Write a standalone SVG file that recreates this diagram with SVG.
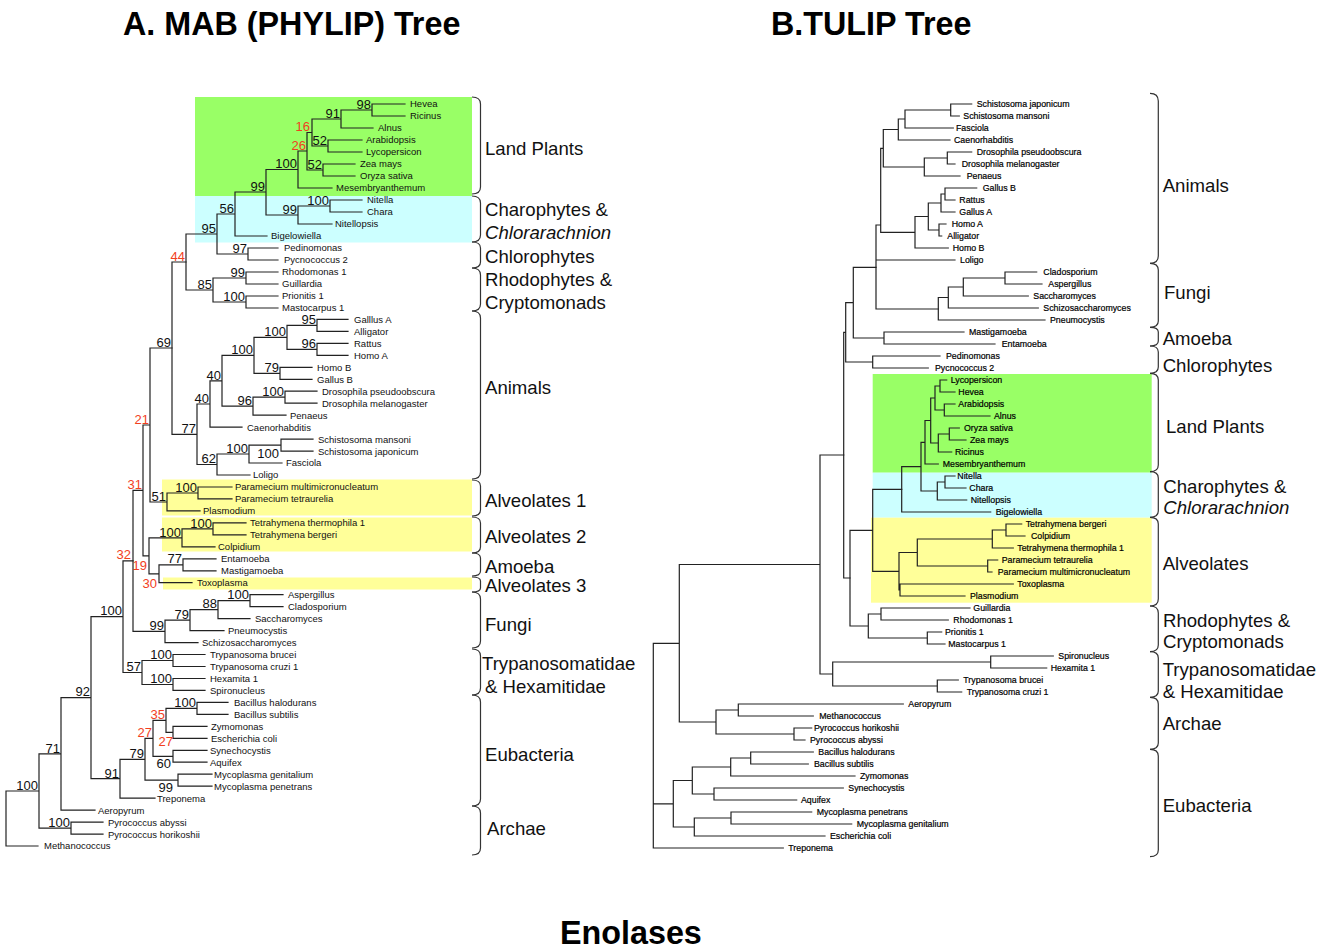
<svg xmlns="http://www.w3.org/2000/svg" width="1331" height="949" viewBox="0 0 1331 949">
<style>
.bg{fill:#fff}
.br{fill:none;stroke:#222;stroke-width:1.2;stroke-linecap:square}
.brace{fill:none;stroke:#333;stroke-width:1.2}
.ll{font-family:"Liberation Sans",Arial,sans-serif;font-size:9.5px;fill:#111}
.rl{font-family:"Liberation Sans",Arial,sans-serif;font-size:8.8px;fill:#000;stroke:#000;stroke-width:0.2}
.bs{font-family:"Liberation Sans",Arial,sans-serif;font-size:13px;fill:#111;text-anchor:end}
.red{fill:#f2401e}
.grp{font-family:"Liberation Sans",Arial,sans-serif;font-size:18.6px;fill:#111}
.it{font-style:italic}
.ttl{font-family:"Liberation Sans",Arial,sans-serif;font-size:32.3px;font-weight:bold;fill:#000}
.gr{fill:#99ff66}.cy{fill:#ccffff}.ye{fill:#ffff99}
</style>
<rect class="bg" x="0" y="0" width="1331" height="949"/>
<g id="titles">
<text class="ttl" x="123" y="35">A. MAB (PHYLIP) Tree</text>
<text class="ttl" x="771" y="35">B.TULIP Tree</text>
<text class="ttl" x="560" y="944">Enolases</text>
</g>
<g id="bands-a">
<rect class="gr" x="195" y="97" width="277" height="99"/>
<rect class="cy" x="195" y="196" width="277" height="46.5"/>
<rect class="ye" x="162" y="479.5" width="310" height="36"/>
<rect class="ye" x="162" y="517.5" width="310" height="34"/>
<rect class="ye" x="163" y="577.5" width="309" height="12"/>
</g>
<g id="bands-b">
<rect class="gr" x="872.7" y="374" width="279" height="98.7"/>
<rect class="cy" x="872.7" y="472.7" width="279" height="45"/>
<rect class="ye" x="871" y="517.7" width="280.7" height="85"/>
</g>
<g id="connectors-a">
<path class="br" d="M405 104H372V116H405 M372 110H341V128H373 M362 140H328V152H362 M341 119H312V146H328 M355 164H323V176H355 M312 132.5H307V170H323 M307 151H298V188H332 M362 200H330V212H362 M330 206H298V224H332 M298 169.5H266V215H298 M266 192H235V236H267 M278 248H248V260H278 M235 214H217V254H248 M278 272H246V284H278 M278 296H246V308H278 M246 278H213V302H246 M217 234H186V290H213"/>
<path class="br" d="M348 319.4H317V331.4H348 M348 343.4H317V355.3H348 M317 325.4H287V349.4H317 M312 367.3H280V379.3H312 M287 337.4H254V373.3H280 M317 391.2H285V403.2H317 M285 397.2H253V415.2H286 M254 355.3H222V406.2H253 M222 380.8H210V427.1H242 M313 439.1H281V451.1H313 M281 445.1H249V463H282 M249 454H217V475H250 M210 404H197V464.5H217 M186 262H172V434.3H197"/>
<path class="br" d="M232 487H198V498.9H232 M198 493H167V510.9H200 M172 348H150V502H167 M246 522.9H213V534.9H246 M213 528.9H182V546.8H215 M216 558.8H183V570.8H216 M183 564.8H159V582.7H192 M182 537.9H149V573.8H159 M150 425H143V555.8H149 M283 594.7H250V606.7H283 M250 600.7H218V618.6H250 M218 609.7H190V630.6H224 M190 620.2H165V642.6H198 M143 490.4H133V631.4H165"/>
<path class="br" d="M205 654.5H173V666.5H205 M205 678.5H173V690.4H205 M173 660.5H142V684.5H173 M133 560.9H123V672.5H142 M228 702.4H197V714.4H228 M207 726.3H173V738.3H207 M197 708.4H166V732.3H173 M207 750.3H173V762.2H207 M166 720.4H153V756.3H173 M212 774.2H178V786.2H212 M153 738.3H145V780.2H178 M145 759.3H120V798.2H155 M123 616.7H91V778.7H120 M91 697.7H61V810.1H95 M103 822.1H71V834.1H103 M61 753.9H39V828.1H71 M39 791H6V846H38"/>
</g>
<g id="connectors-b">
<path class="br" d="M971.7 104H950.7V116H959.3 M950.7 110H905V128H953.3 M905 119H898.3V140H950 M971.7 152H947.3V164H955 M947.3 158H924.3V176H960 M898.3 129.5H883.3V167H924.3 M976.7 188H945V200H955 M945 194H941V212H955 M946 224H939V236H941.7 M941 203H928.3V230H939 M928.3 216.5H915V248H948.3 M883.3 148.3H880.7V232.3H915 M880.7 225H876V309H938.3 M876 260H955"/>
<path class="br" d="M1036.7 272H1005V284H1042 M1005 278H963.3V296H1028.3 M963.3 287H948.3V308H1038.3 M948.3 297.5H938.3V320H1045 M964 332H884V344H995 M876 267.3H853.3V338H884 M940 356H872.7V368H928.3 M853.3 302.7H845.7V362H872.7 M845.7 332.3H843.7V578H850"/>
<path class="br" d="M946.7 380H940V392H955 M955 404H944.3V416H990 M940 386H935V410H944.3 M959.3 428H949.3V440H966 M949.3 434H938.3V452H951.7 M935 398H930.7V443H938.3 M930.7 420.5H925V464H938.3 M955 476H945V488H966 M945 482H937.3V500H966.7 M925 442.3H921V491H937.3 M921 466.7H901.7V512H990.7"/>
<path class="br" d="M1021.7 524H1006V536H1025 M1006 530H992.3V548H1013.3 M997.7 560H987.7V572H992 M992.3 539H917.3V566H987.7 M1013.3 584H900V596H965 M917.3 552.5H899V590H900 M901.7 489.3H872.7V571.3H899 M970 608H881V620H948.3 M941.7 632H927.3V644H945 M881 614H868.3V638H927.3 M872.7 530.3H850V626H868.3"/>
<path class="br" d="M1053.3 656H990.7V668H1046.7 M958.3 680H937.3V692H961.7 M990.7 662H832.7V686H937.3 M843.7 455H820V674H832.7 M903.3 704H738.3V716H813.3 M811.7 728H794V740H805 M738.3 710H716V734H794 M820 564.5H679.3V722H716 M813.3 752H750.7V764H808.3 M750.7 758H730.7V776H855 M843.3 788H714V800H796.7 M730.7 767H692.3V794H714 M811.7 812H731V824H851.7 M731 818H694.3V836H825 M692.3 780.5H673.3V827H694.3 M679.3 643.3H653.3V848H783.3 M653.3 803.8H673.3"/>
</g>
<g id="leaves-a" class="ll">
<text x="410" y="107.4">Hevea</text>
<text x="410" y="119.4">Ricinus</text>
<text x="378" y="131.3">Alnus</text>
<text x="366" y="143.3">Arabidopsis</text>
<text x="366" y="155.3">Lycopersicon</text>
<text x="360" y="167.2">Zea mays</text>
<text x="360" y="179.2">Oryza sativa</text>
<text x="336" y="191.2">Mesembryanthemum</text>
<text x="367" y="203.1">Nitella</text>
<text x="367" y="215.1">Chara</text>
<text x="335" y="227.1">Nitellopsis</text>
<text x="271" y="239">Bigelowiella</text>
<text x="284" y="251">Pedinomonas</text>
<text x="284" y="263">Pycnococcus 2</text>
<text x="282" y="275">Rhodomonas 1</text>
<text x="282" y="286.9">Guillardia</text>
<text x="282" y="298.9">Prionitis 1</text>
<text x="282" y="310.9">Mastocarpus 1</text>
<text x="354" y="322.8">Galllus A</text>
<text x="354" y="334.8">Alligator</text>
<text x="354" y="346.8">Rattus</text>
<text x="354" y="358.7">Homo A</text>
<text x="317" y="370.7">Homo B</text>
<text x="317" y="382.7">Gallus B</text>
<text x="322" y="394.6">Drosophila pseudoobscura</text>
<text x="322" y="406.6">Drosophila melanogaster</text>
<text x="290" y="418.6">Penaeus</text>
<text x="247" y="430.5">Caenorhabditis</text>
<text x="318" y="442.5">Schistosoma mansoni</text>
<text x="318" y="454.5">Schistosoma japonicum</text>
<text x="286" y="466.4">Fasciola</text>
<text x="253" y="478.4">Loligo</text>
<text x="235" y="490.4">Paramecium multimicronucleatum</text>
<text x="235" y="502.3">Paramecium tetraurelia</text>
<text x="203" y="514.3">Plasmodium</text>
<text x="250" y="526.3">Tetrahymena thermophila 1</text>
<text x="250" y="538.3">Tetrahymena bergeri</text>
<text x="218" y="550.2">Colpidium</text>
<text x="221" y="562.2">Entamoeba</text>
<text x="221" y="574.2">Mastigamoeba</text>
<text x="197" y="586.1">Toxoplasma</text>
<text x="288" y="598.1">Aspergillus</text>
<text x="288" y="610.1">Cladosporium</text>
<text x="255" y="622">Saccharomyces</text>
<text x="228" y="634">Pneumocystis</text>
<text x="202" y="646">Schizosaccharomyces</text>
<text x="210" y="657.9">Trypanosoma brucei</text>
<text x="210" y="669.9">Trypanosoma cruzi 1</text>
<text x="210" y="681.9">Hexamita 1</text>
<text x="210" y="693.8">Spironucleus</text>
<text x="234" y="705.8">Bacillus halodurans</text>
<text x="234" y="717.8">Bacillus subtilis</text>
<text x="211" y="729.7">Zymomonas</text>
<text x="211" y="741.7">Escherichia coli</text>
<text x="210" y="753.7">Synechocystis</text>
<text x="210" y="765.6">Aquifex</text>
<text x="214" y="777.6">Mycoplasma genitalium</text>
<text x="214" y="789.6">Mycoplasma penetrans</text>
<text x="157" y="801.6">Treponema</text>
<text x="98" y="813.5">Aeropyrum</text>
<text x="108" y="825.5">Pyrococcus abyssi</text>
<text x="108" y="837.5">Pyrococcus horikoshii</text>
<text x="44" y="849.4">Methanococcus</text>
</g>
<g id="support-a" class="bs">
<text x="371" y="108.5">98</text>
<text x="340" y="117.5">91</text>
<text class="red" x="310" y="131">16</text>
<text x="327" y="144.5">52</text>
<text class="red" x="306" y="149.5">26</text>
<text x="322" y="168.5">52</text>
<text x="297" y="168">100</text>
<text x="329" y="204.5">100</text>
<text x="297" y="213.5">99</text>
<text x="265" y="190.5">99</text>
<text x="234" y="212.5">56</text>
<text x="216" y="232.5">95</text>
<text x="247" y="252.5">97</text>
<text class="red" x="185" y="260.5">44</text>
<text x="245" y="276.5">99</text>
<text x="245" y="300.5">100</text>
<text x="212" y="288.5">85</text>
<text x="171" y="346.5">69</text>
<text x="316" y="324">95</text>
<text x="316" y="348">96</text>
<text x="286" y="336">100</text>
<text x="279" y="372">79</text>
<text x="253" y="354">100</text>
<text x="284" y="396">100</text>
<text x="252" y="405">96</text>
<text x="221" y="379.5">40</text>
<text x="209" y="402.5">40</text>
<text x="196" y="433">77</text>
<text x="248" y="452.5">100</text>
<text x="279" y="457.5">100</text>
<text x="216" y="463">62</text>
<text class="red" x="149" y="423.5">21</text>
<text x="166" y="500.5">51</text>
<text x="197" y="491.5">100</text>
<text class="red" x="142" y="489">31</text>
<text x="212" y="527.5">100</text>
<text x="181" y="536.5">100</text>
<text x="182" y="563.3">77</text>
<text class="red" x="147" y="570">19</text>
<text class="red" x="157" y="588">30</text>
<text class="red" x="131" y="559">32</text>
<text x="249" y="599.2">100</text>
<text x="217" y="608.2">88</text>
<text x="189" y="618.7">79</text>
<text x="164" y="630">99</text>
<text x="122" y="615.2">100</text>
<text x="172" y="659">100</text>
<text x="172" y="683">100</text>
<text x="141" y="671">57</text>
<text x="90" y="696.2">92</text>
<text x="196" y="707">100</text>
<text class="red" x="165" y="719">35</text>
<text class="red" x="152" y="737">27</text>
<text class="red" x="173" y="746">27</text>
<text x="171" y="768">60</text>
<text x="173" y="792">99</text>
<text x="144" y="758">79</text>
<text x="119" y="777.5">91</text>
<text x="60" y="752.5">71</text>
<text x="70" y="826.5">100</text>
<text x="38" y="789.5">100</text>
</g>
<g id="leaves-b" class="rl">
<text x="976.7" y="107.2">Schistosoma japonicum</text>
<text x="963.3" y="119.2">Schistosoma mansoni</text>
<text x="956" y="131.2">Fasciola</text>
<text x="954" y="143.2">Caenorhabditis</text>
<text x="976.7" y="155.2">Drosophila pseudoobscura</text>
<text x="961.7" y="167.2">Drosophila melanogaster</text>
<text x="966.7" y="179.2">Penaeus</text>
<text x="982.7" y="191.2">Gallus B</text>
<text x="959.3" y="203.2">Rattus</text>
<text x="959.3" y="215.2">Gallus A</text>
<text x="951.7" y="227.2">Homo A</text>
<text x="947.3" y="239.2">Alligator</text>
<text x="952.7" y="251.2">Homo B</text>
<text x="960" y="263.2">Loligo</text>
<text x="1043.3" y="275.2">Cladosporium</text>
<text x="1048.3" y="287.2">Aspergillus</text>
<text x="1033.3" y="299.2">Saccharomyces</text>
<text x="1043.3" y="311.2">Schizosaccharomyces</text>
<text x="1050" y="323.2">Pneumocystis</text>
<text x="969" y="335.2">Mastigamoeba</text>
<text x="1001.7" y="347.2">Entamoeba</text>
<text x="946" y="359.2">Pedinomonas</text>
<text x="935" y="371.2">Pycnococcus 2</text>
<text x="950.7" y="383.2">Lycopersicon</text>
<text x="958.3" y="395.2">Hevea</text>
<text x="958.3" y="407.2">Arabidopsis</text>
<text x="994" y="419.2">Alnus</text>
<text x="964" y="431.2">Oryza sativa</text>
<text x="970" y="443.2">Zea mays</text>
<text x="955" y="455.2">Ricinus</text>
<text x="942.7" y="467.2">Mesembryanthemum</text>
<text x="957.3" y="479.2">Nitella</text>
<text x="969.3" y="491.2">Chara</text>
<text x="970.7" y="503.2">Nitellopsis</text>
<text x="995.7" y="515.2">Bigelowiella</text>
<text x="1025.7" y="527.2">Tetrahymena bergeri</text>
<text x="1031" y="539.2">Colpidium</text>
<text x="1017.3" y="551.2">Tetrahymena thermophila 1</text>
<text x="1001.7" y="563.2">Paramecium tetraurelia</text>
<text x="997.7" y="575.2">Paramecium multimicronucleatum</text>
<text x="1017.3" y="587.2">Toxoplasma</text>
<text x="970" y="599.2">Plasmodium</text>
<text x="973.3" y="611.2">Guillardia</text>
<text x="953.3" y="623.2">Rhodomonas 1</text>
<text x="945" y="635.2">Prionitis 1</text>
<text x="948.3" y="647.2">Mastocarpus 1</text>
<text x="1058.3" y="659.2">Spironucleus</text>
<text x="1050.7" y="671.2">Hexamita 1</text>
<text x="963.3" y="683.2">Trypanosoma brucei</text>
<text x="966.7" y="695.2">Trypanosoma cruzi 1</text>
<text x="908.3" y="707.2">Aeropyrum</text>
<text x="819.3" y="719.2">Methanococcus</text>
<text x="814" y="731.2">Pyrococcus horikoshii</text>
<text x="810" y="743.2">Pyrococcus abyssi</text>
<text x="818.3" y="755.2">Bacillus halodurans</text>
<text x="814" y="767.2">Bacillus subtilis</text>
<text x="860" y="779.2">Zymomonas</text>
<text x="848.3" y="791.2">Synechocystis</text>
<text x="801" y="803.2">Aquifex</text>
<text x="816.7" y="815.2">Mycoplasma penetrans</text>
<text x="856.7" y="827.2">Mycoplasma genitalium</text>
<text x="830" y="839.2">Escherichia coli</text>
<text x="788.3" y="851.2">Treponema</text>
</g>
<g id="groups-a">
<path class="brace" d="M472 97Q480.5 97 480.5 104V187Q480.5 194 472 194"/>
<text class="grp" x="485" y="154.5">Land Plants</text>
<path class="brace" d="M472 196Q480.5 196 480.5 203V235Q480.5 242 472 242"/>
<text class="grp" x="485" y="216">Charophytes &amp;</text>
<text class="grp it" x="485" y="239">Chlorarachnion</text>
<path class="brace" d="M472 242Q480.5 242 480.5 248V262Q480.5 268 472 268"/>
<text class="grp" x="485" y="263">Chlorophytes</text>
<path class="brace" d="M472 268Q480.5 268 480.5 275V304Q480.5 311 472 311"/>
<text class="grp" x="485" y="286">Rhodophytes &amp;</text>
<text class="grp" x="485" y="309">Cryptomonads</text>
<path class="brace" d="M472 311Q480.5 311 480.5 318V472Q480.5 479 472 479"/>
<text class="grp" x="485" y="394">Animals</text>
<path class="brace" d="M472 480Q480.5 480 480.5 486V510Q480.5 516 472 516"/>
<text class="grp" x="485" y="506.5">Alveolates 1</text>
<path class="brace" d="M472 517Q480.5 517 480.5 523V547Q480.5 553 472 553"/>
<text class="grp" x="485" y="542.5">Alveolates 2</text>
<path class="brace" d="M472 553Q480.5 553 480.5 558V571Q480.5 576 472 576"/>
<text class="grp" x="485" y="572.5">Amoeba</text>
<path class="brace" d="M472 577Q480.5 577 480.5 581V588Q480.5 592 472 592"/>
<text class="grp" x="485" y="591.5">Alveolates 3</text>
<path class="brace" d="M472 592Q480.5 592 480.5 599V641Q480.5 648 472 648"/>
<text class="grp" x="485" y="630.5">Fungi</text>
<path class="brace" d="M472 649Q480.5 649 480.5 656V688Q480.5 695 472 695"/>
<text class="grp" x="482" y="669.5">Trypanosomatidae</text>
<text class="grp" x="485" y="692.5">&amp; Hexamitidae</text>
<path class="brace" d="M472 695Q480.5 695 480.5 702V799Q480.5 806 472 806"/>
<text class="grp" x="485" y="760.5">Eubacteria</text>
<path class="brace" d="M472 806Q480.5 806 480.5 813V848Q480.5 855 472 855"/>
<text class="grp" x="487" y="834.5">Archae</text>
</g>
<g id="groups-b">
<path class="brace" d="M1150 93.3Q1158.3 93.3 1158.3 101V256Q1158.3 263.3 1150 263.3"/>
<text class="grp" x="1162.7" y="192">Animals</text>
<path class="brace" d="M1150 263.3Q1158.3 263.3 1158.3 270V321Q1158.3 327.3 1150 327.3"/>
<text class="grp" x="1164" y="299">Fungi</text>
<path class="brace" d="M1150 327.3Q1158.3 327.3 1158.3 332V341Q1158.3 346 1150 346"/>
<text class="grp" x="1162.7" y="345">Amoeba</text>
<path class="brace" d="M1150 346Q1158.3 346 1158.3 352V367Q1158.3 373.3 1150 373.3"/>
<text class="grp" x="1162.7" y="372">Chlorophytes</text>
<path class="brace" d="M1150 373.3Q1158.3 373.3 1158.3 380V465Q1158.3 471.7 1150 471.7"/>
<text class="grp" x="1166" y="433.3">Land Plants</text>
<path class="brace" d="M1150 471.7Q1158.3 471.7 1158.3 478V511Q1158.3 517.3 1150 517.3"/>
<text class="grp" x="1163.3" y="493.3">Charophytes &amp;</text>
<text class="grp it" x="1163.3" y="514">Chlorarachnion</text>
<path class="brace" d="M1150 517.3Q1158.3 517.3 1158.3 524V599Q1158.3 606 1150 606"/>
<text class="grp" x="1162.7" y="570">Alveolates</text>
<path class="brace" d="M1150 606Q1158.3 606 1158.3 613V645Q1158.3 651.7 1150 651.7"/>
<text class="grp" x="1163" y="626.7">Rhodophytes &amp;</text>
<text class="grp" x="1163" y="648.3">Cryptomonads</text>
<path class="brace" d="M1150 651.7Q1158.3 651.7 1158.3 658V691Q1158.3 697.3 1150 697.3"/>
<text class="grp" x="1162.7" y="676">Trypanosomatidae</text>
<text class="grp" x="1162.7" y="698.3">&amp; Hexamitidae</text>
<path class="brace" d="M1150 697.3Q1158.3 697.3 1158.3 704V743Q1158.3 749.3 1150 749.3"/>
<text class="grp" x="1162.7" y="730">Archae</text>
<path class="brace" d="M1150 749.3Q1158.3 749.3 1158.3 756V850Q1158.3 856.7 1150 856.7"/>
<text class="grp" x="1162.7" y="811.7">Eubacteria</text>
</g>
</svg>
